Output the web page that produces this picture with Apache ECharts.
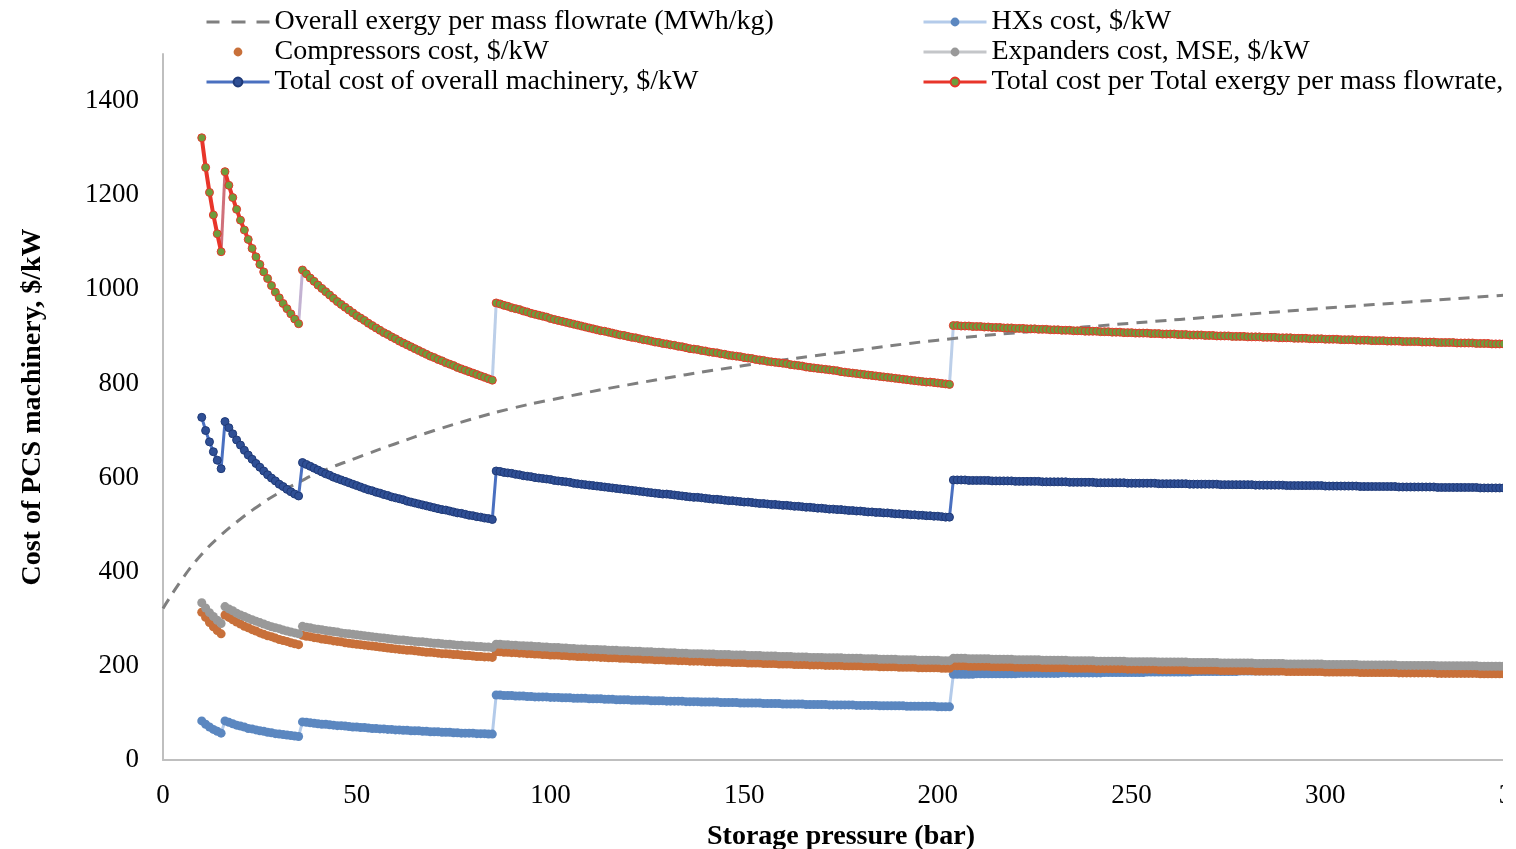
<!DOCTYPE html>
<html>
<head>
<meta charset="utf-8">
<script src="https://cdn.jsdelivr.net/npm/echarts@6/dist/echarts.min.js"></script>
<style>html,body{margin:0;padding:0;background:#fff}#chart{width:1516px;height:849px}</style>
</head>
<body>
<div id="chart"></div>
<script>
// Storage pressure runs in 1-bar steps starting here
const PRESSURE_START = 10;
// First pressure of each new machinery stage (a jump in every cost curve)
const stageStarts = [16, 36, 86, 204];

const seriesNames = [
  'Overall exergy per mass flowrate (MWh/kg)',
  'HXs cost, $/kW',
  'Compressors cost, $/kW',
  'Expanders cost, MSE, $/kW',
  'Total cost of overall machinery, $/kW',
  'Total cost per Total exergy per mass flowrate,'
];

// Dashed exergy curve (read in primary-axis units)
const exergyPressure = [0,5,10,15,20,25,30,35,40,50,60,70,80,90,100,120,150,175,200,225,250,275,300,325,350];
const exergyValue    = [322,385,437,478,512,542,568,590,610,642,672,700,725,747,765,797,838,866,892,911,928,944,960,975,990];

const hxCost = [
83,76,70,65,61,57,
83,80,77,74,72,70,67,66,64,62,61,59,58,56,55,54,53,52,51,50,
81,80,79,78,77,76,76,75,74,73,73,72,71,70,70,69,69,68,67,67,66,66,65,65,64,64,63,63,62,62,62,61,61,60,60,60,59,59,59,58,58,57,57,57,57,56,56,56,55,55,
138,138,137,137,137,136,136,136,135,135,134,
134,134,134,133,133,133,132,132,132,131,
131,131,131,130,130,130,130,129,129,129,
128,128,128,128,127,127,127,127,127,126,
126,126,126,125,125,125,125,125,124,124,
124,124,123,123,123,123,123,122,122,122,
122,122,121,121,121,121,121,121,120,120,
120,120,120,119,119,119,119,119,119,118,
118,118,118,118,118,117,117,117,117,117,
117,117,116,116,116,116,116,116,115,115,
115,115,115,115,115,114,114,114,114,114,
114,114,114,113,113,113,113,
182,182,182,182,182,182,183,183,183,183,183,183,183,183,183,183,183,184,184,184,184,
184,184,184,184,184,184,184,185,185,185,185,185,185,185,185,185,185,185,186,186,
186,186,186,186,186,186,186,186,186,187,187,187,187,187,187,187,187,187,187,187,
187,188,188,188,188,188,188,188,188,188,188,188,188,189,189,189,189,189,189,189,
189,189,189,189,190,190,190,190,190,190,190,190,190,190,190,191,191,191,191,191,
191,191,191,191,191,191,192,192,192,192,192,192,192,192,192,192,192,193,193,193,
193,193,193,193,193,193,193,193,194,194,194,194,194,194,194,194,194,194,194,195,
195,195,195,195,195,195
];

const compCost = [
314,303,292,283,275,268,
308,303,298,293,289,284,281,277,274,270,267,264,262,259,256,254,252,249,247,245,
265,263,262,260,259,257,256,255,253,252,251,249,248,247,246,245,244,243,242,241,240,239,238,237,236,235,234,233,233,232,231,230,229,229,228,227,226,226,225,224,224,223,222,222,221,220,220,219,219,218,
230,230,229,229,228,228,227,227,226,226,225,
225,224,224,223,223,223,222,222,221,221,
220,220,220,219,219,219,218,218,217,217,
217,216,216,216,215,215,215,214,214,214,
213,213,213,212,212,212,211,211,211,210,
210,210,210,209,209,209,208,208,208,208,
207,207,207,207,206,206,206,206,205,205,
205,205,204,204,204,204,203,203,203,203,
202,202,202,202,201,201,201,201,201,200,
200,200,200,200,199,199,199,199,198,198,
198,198,198,197,197,197,197,197,196,196,
196,196,196,196,195,195,195,
200,200,200,200,199,199,199,199,199,199,198,198,198,198,198,198,197,197,197,197,197,
197,197,196,196,196,196,196,196,196,195,195,195,195,195,195,195,194,194,194,194,
194,194,194,194,193,193,193,193,193,193,193,193,192,192,192,192,192,192,192,192,
191,191,191,191,191,191,191,191,190,190,190,190,190,190,190,190,190,189,189,189,
189,189,189,189,189,188,188,188,188,188,188,188,188,188,188,187,187,187,187,187,
187,187,187,187,186,186,186,186,186,186,186,186,186,186,185,185,185,185,185,185,
185,185,185,185,184,184,184,184,184,184,184,184,184,184,184,183,183,183,183,183,
183,183,183,183,183,183
];

const expCost = [
334,323,313,305,297,290,
326,321,317,312,308,305,301,298,295,292,289,286,283,281,279,276,274,272,270,268,
284,282,281,279,278,277,275,274,273,272,270,269,268,267,266,265,264,263,262,261,260,259,258,257,256,255,255,254,253,252,251,251,250,249,248,248,247,246,246,245,244,244,243,243,242,241,241,240,240,239,
246,246,245,245,244,244,243,243,242,242,241,
241,240,240,239,239,239,238,238,237,237,
236,236,236,235,235,235,234,234,233,233,
233,232,232,232,231,231,231,230,230,230,
229,229,229,228,228,228,227,227,227,226,
226,226,226,225,225,225,224,224,224,224,
223,223,223,223,222,222,222,222,221,221,
221,221,220,220,220,220,219,219,219,219,
218,218,218,218,217,217,217,217,217,216,
216,216,216,216,215,215,215,215,214,214,
214,214,214,213,213,213,213,213,212,212,
212,212,212,212,211,211,211,
216,216,216,216,215,215,215,215,215,215,214,214,214,214,214,214,213,213,213,213,213,
213,213,212,212,212,212,212,212,212,211,211,211,211,211,211,211,210,210,210,210,
210,210,210,210,209,209,209,209,209,209,209,209,208,208,208,208,208,208,208,208,
207,207,207,207,207,207,207,207,206,206,206,206,206,206,206,206,206,205,205,205,
205,205,205,205,205,204,204,204,204,204,204,204,204,204,204,203,203,203,203,203,
203,203,203,203,202,202,202,202,202,202,202,202,202,202,201,201,201,201,201,201,
201,201,201,201,200,200,200,200,200,200,200,200,200,200,200,199,199,199,199,199,
199,199,199,199,199,199
];

const totalCost = [
728,700,676,655,637,619,
719,706,693,680,669,658,648,639,630,622,614,606,599,593,586,581,575,570,565,561,
632,628,624,620,616,612,608,605,601,598,595,592,589,586,583,580,577,574,572,569,567,564,562,559,557,555,553,550,548,546,544,542,540,538,536,534,532,531,529,527,525,524,522,520,519,517,516,514,513,511,
614,613,611,610,609,607,606,604,603,602,600,
599,598,597,596,594,593,592,591,590,588,
587,586,585,584,583,582,581,580,579,578,
577,576,575,574,573,572,571,570,569,568,
567,566,565,565,564,563,562,561,560,559,
558,558,557,556,555,554,554,553,552,551,
551,550,549,548,548,547,546,545,545,544,
543,543,542,541,541,540,539,539,538,537,
537,536,535,535,534,533,533,532,532,531,
530,530,529,529,528,527,527,526,526,525,
525,524,523,523,522,522,521,521,520,520,
519,519,518,518,517,516,516,
595,595,595,595,594,594,594,594,594,594,593,593,593,593,593,593,592,592,592,592,592,
592,592,591,591,591,591,591,591,591,590,590,590,590,590,590,590,589,589,589,589,
589,589,589,589,588,588,588,588,588,588,588,588,587,587,587,587,587,587,587,587,
586,586,586,586,586,586,586,586,585,585,585,585,585,585,585,585,585,584,584,584,
584,584,584,584,584,583,583,583,583,583,583,583,583,583,583,582,582,582,582,582,
582,582,582,582,581,581,581,581,581,581,581,581,581,581,580,580,580,580,580,580,
580,580,580,580,579,579,579,579,579,579,579,579,579,579,579,578,578,578,578,578,
578,578,578,578,578,578
];

const costPerExergy = [
1322,1259,1206,1158,1118,1080,
1250,1221,1195,1170,1147,1126,1106,1087,1069,1053,1037,1023,1008,994,982,970,959,948,937,927,
1041,1033,1024,1017,1009,1002,995,988,981,974,968,962,956,950,944,939,934,928,923,918,913,908,904,899,895,890,886,882,878,874,870,866,862,858,855,851,848,844,841,838,834,831,828,825,822,819,816,813,810,807,
971,969,966,964,961,959,957,954,952,949,947,
945,943,941,938,936,934,932,930,928,926,
924,922,920,918,916,914,912,911,909,907,
905,903,902,900,898,897,895,893,892,890,
888,887,885,884,882,881,879,878,876,874,
873,872,870,869,867,866,865,863,862,860,
859,858,857,855,854,853,851,850,849,847,
846,845,844,843,842,840,839,838,837,835,
834,833,832,831,830,829,828,827,825,824,
823,822,821,820,819,818,817,816,815,814,
813,812,811,810,809,808,807,806,805,804,
803,803,802,801,800,799,798,
923,923,922,922,922,921,921,921,920,920,919,919,919,918,918,918,917,917,917,916,916,
916,915,915,915,914,914,914,913,913,913,912,912,912,911,911,911,911,910,910,910,
909,909,909,908,908,908,907,907,907,907,906,906,906,905,905,905,905,904,904,904,
903,903,903,903,902,902,902,901,901,901,901,900,900,900,900,899,899,899,899,898,
898,898,898,897,897,897,897,896,896,896,896,895,895,895,895,894,894,894,894,893,
893,893,893,892,892,892,892,891,891,891,891,890,890,890,890,889,889,889,889,889,
888,888,888,888,887,887,887,887,887,886,886,886,886,886,885,885,885,885,884,884,
884,884,884,883,883,883
];

// Colours of the connector drawn at each stage jump of the red curve
const jumpColors = ['#d0707a', '#c3b2d2', '#bccfe9', '#bccfe9'];

function toPairs(arr) { return arr.map((v, i) => [PRESSURE_START + i, v]); }
// same pairs, but with a break before each stage start (line not joined across jumps)
function toBrokenPairs(arr) {
  const out = [];
  arr.forEach((v, i) => {
    const p = PRESSURE_START + i;
    if (stageStarts.indexOf(p) >= 0) out.push([p - 0.5, null]);
    out.push([p, v]);
  });
  return out;
}

const FONT = 'Liberation Serif';
const chart = echarts.init(document.getElementById('chart'), null, {renderer: 'canvas'});

const legendBase = {
  orient: 'vertical', top: 3, itemGap: 2, itemWidth: 63, itemHeight: 11,
  textStyle: {fontFamily: FONT, fontSize: 28, color: '#000'},
  lineStyle: {width: 3},
  selectedMode: false
};

const markerSeries = (name, data, lineColor, lineWidth, fill, border, size) => ({
  name, type: 'line', data: toPairs(data),
  symbol: 'circle', symbolSize: size, showAllSymbol: true,
  lineStyle: {color: lineColor, width: lineWidth},
  itemStyle: {color: fill, borderColor: border || fill, borderWidth: border ? 1 : 0},
  emphasis: {disabled: true}
});

const jumpSeries = stageStarts.map((p, k) => {
  const i = p - PRESSURE_START;
  return {
    type: 'line', silent: true, symbol: 'none', z: 2,
    data: [[p - 1, costPerExergy[i - 1]], [p, costPerExergy[i]]],
    lineStyle: {color: jumpColors[k], width: 3}
  };
});

const redSeries = markerSeries(seriesNames[5], costPerExergy, '#e8352a', 4, '#6e9c3c', '#e8352a', 8);
redSeries.data = toBrokenPairs(costPerExergy);
redSeries.connectNulls = false;
redSeries.z = 3;

// dashed legend icon: three dashes in a 63x11 box
const dashIcon = 'path://M0,0M63,11M0,4h13v3h-13zM25,4h14v3h-14zM50,4h13v3h-13z';

chart.setOption({
  animation: false,
  backgroundColor: '#fff',
  grid: {left: 163, right: -3, top: 54, bottom: 89, containLabel: false, outerBoundsMode: 'none'},
  legend: [
    Object.assign({}, legendBase, {left: 200, data: [
      {name: seriesNames[0], icon: dashIcon, itemStyle: {color: '#7f7f7f'}},
      seriesNames[2], seriesNames[4]]}),
    Object.assign({}, legendBase, {left: 917, data: [seriesNames[1], seriesNames[3], seriesNames[5]]})
  ],
  xAxis: {
    type: 'value', min: 0, max: 350, interval: 50,
    name: 'Storage pressure (bar)', nameLocation: 'middle', nameGap: 63,
    nameTextStyle: {fontFamily: FONT, fontSize: 28, fontWeight: 'bold', color: '#000'},
    axisLine: {show: true, lineStyle: {color: '#bfbfbf', width: 2}},
    axisTick: {show: false},
    splitLine: {show: false},
    axisLabel: {fontFamily: FONT, fontSize: 27, color: '#000', margin: 22, formatter: v => String(v)}
  },
  yAxis: {
    type: 'value', min: 0, max: 1500, interval: 200,
    name: 'Cost of PCS machinery, $/kW', nameLocation: 'middle', nameGap: 116, nameRotate: 90,
    nameTextStyle: {fontFamily: FONT, fontSize: 28, fontWeight: 'bold', color: '#000'},
    axisLine: {show: true, lineStyle: {color: '#bfbfbf', width: 2}},
    axisTick: {show: false},
    splitLine: {show: false},
    axisLabel: {fontFamily: FONT, fontSize: 27, color: '#000', margin: 24, showMaxLabel: false,
                padding: [4, 0, 0, 0], formatter: v => String(v)}
  },
  series: [
    {
      name: seriesNames[0], type: 'line', smooth: true, showSymbol: false, symbol: 'none',
      data: exergyPressure.map((p, i) => [p, exergyValue[i]]),
      lineStyle: {color: '#7f7f7f', width: 3, type: [11, 8]},
      itemStyle: {color: '#7f7f7f'},
      emphasis: {disabled: true}
    },
    markerSeries(seriesNames[1], hxCost, '#b4cbea', 3, '#5b87c0', null, 9),
    markerSeries(seriesNames[2], compCost, 'rgba(0,0,0,0)', 0, '#c8703a', null, 9),
    markerSeries(seriesNames[3], expCost, '#c4c6c9', 3, '#999999', null, 9),
    markerSeries(seriesNames[4], totalCost, '#4a70c0', 3, '#2f4f95', '#1f3a78', 8)
  ].concat(jumpSeries, [redSeries]),
  graphic: [{
    type: 'rect', left: 1503, top: 0, z: 100,
    shape: {width: 20, height: 849}, style: {fill: '#fff'}
  }]
});
</script>
</body>
</html>
